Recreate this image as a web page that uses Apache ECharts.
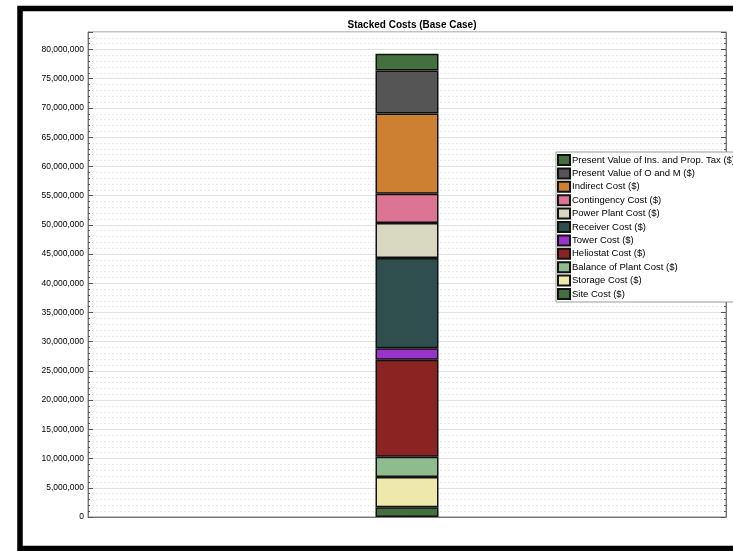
<!DOCTYPE html>
<html>
<head>
<meta charset="utf-8">
<script src="https://cdn.jsdelivr.net/npm/echarts@6/dist/echarts.min.js"></script>
<style>
html,body{margin:0;padding:0;background:#fff;}
#chart{width:733px;height:551px;}
</style>
</head>
<body>
<div id="chart"></div>
<script>
// Data (bottom to top of the stack)
var categories = ['Base Case'];
var seriesNames = [
  'Site Cost ($)',
  'Storage Cost ($)',
  'Balance of Plant Cost ($)',
  'Heliostat Cost ($)',
  'Tower Cost ($)',
  'Receiver Cost ($)',
  'Power Plant Cost ($)',
  'Contingency Cost ($)',
  'Indirect Cost ($)',
  'Present Value of O and M ($)',
  'Present Value of Ins. and Prop. Tax ($)'
];
var seriesValues = [
  [1660000],
  [5190000],
  [3480000],
  [16560000],
  [2010000],
  [15420000],
  [5990000],
  [5020000],
  [13710000],
  [7360000],
  [2860000]
];
var seriesColors = [
  '#44703f', '#eee8aa', '#8fbc8f', '#8b2323', '#9933cc', '#2f4f4f',
  '#d8d8c0', '#dc7494', '#cd7f32', '#555555', '#44703f'
];
var yTicks = { min: 0, max: 83000000, interval: 5000000 };

var chart = echarts.init(document.getElementById('chart'), null, { renderer: 'canvas' });

var series = seriesNames.map(function (name, i) {
  return {
    name: name,
    type: 'bar',
    stack: 'total',
    barWidth: 63,
    data: seriesValues[i],
    itemStyle: { color: seriesColors[i], borderColor: '#111', borderWidth: 1.5 },
    emphasis: { disabled: true }
  };
});

function fmt(v) {
  return String(Math.round(v)).replace(/\B(?=(\d{3})+(?!\d))/g, ',');
}

var option = {
  animation: false,
  backgroundColor: '#fff',
  title: {
    text: 'Stacked Costs (Base Case)',
    left: 407,
    textAlign: 'center',
    top: 15,
    textStyle: { fontFamily: '"Liberation Sans", Arial, sans-serif', fontWeight: 'bold', fontSize: 10, color: '#000' }
  },
  legend: {
    orient: 'vertical',
    left: 556,
    top: 152,
    data: seriesNames.slice().reverse(),
    icon: 'rect',
    itemWidth: 12,
    itemHeight: 10,
    itemGap: 1.4,
    padding: [2, 4, 2, 1],
    backgroundColor: '#fff',
    borderColor: '#999',
    borderWidth: 1,
    selectedMode: false,
    textStyle: { fontFamily: '"Liberation Sans", Arial, sans-serif', fontSize: 9.5, color: '#000', padding: [0, 0, 0, -3] }
  },
  grid: { left: 88, top: 32, right: 7, bottom: 34, show: true, borderColor: '#888', borderWidth: 1, backgroundColor: 'transparent' },
  xAxis: {
    type: 'category',
    data: categories,
    axisLabel: { show: false },
    axisTick: { show: false },
    axisLine: { lineStyle: { color: '#777' } }
  },
  yAxis: [{
    type: 'value',
    min: yTicks.min,
    max: yTicks.max,
    interval: yTicks.interval,
    axisLine: { show: true, lineStyle: { color: '#777' } },
    axisTick: { show: true, inside: true, length: 5, lineStyle: { color: '#555' } },
    minorTick: { show: true, splitNumber: 5, length: 2, lineStyle: { color: '#555' } },
    axisLabel: {
      margin: 4,
      fontFamily: '"Liberation Sans", Arial, sans-serif',
      fontSize: 8.5,
      color: '#000',
      showMaxLabel: false,
      formatter: fmt
    },
    splitLine: { show: true, lineStyle: { color: '#e2e2e2', width: 1 } },
    minorSplitLine: { show: true, lineStyle: { color: '#e8e8e8', type: [2, 2], width: 1 } }
  }, {
    type: 'value',
    position: 'right',
    min: yTicks.min,
    max: yTicks.max,
    interval: yTicks.interval,
    axisLine: { show: true, lineStyle: { color: '#777' } },
    axisTick: { show: true, inside: true, length: 5, lineStyle: { color: '#555' } },
    minorTick: { show: true, splitNumber: 5, length: 2, lineStyle: { color: '#555' } },
    axisLabel: { show: false },
    splitLine: { show: false }
  }],
  graphic: [{
    type: 'rect',
    shape: { x: 20, y: 8.5, width: 1000, height: 540 },
    style: { fill: null, stroke: '#000', lineWidth: 5.5 },
    silent: true,
    z: 100
  }],
  series: series
};

chart.setOption(option);
</script>
</body>
</html>
